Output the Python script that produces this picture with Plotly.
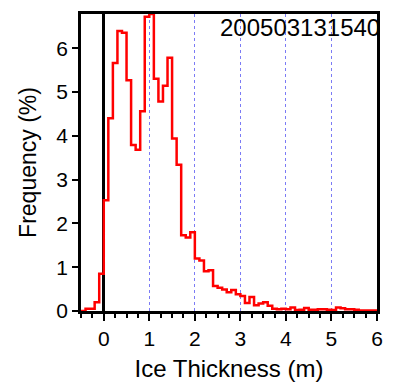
import plotly.graph_objects as go

bin_edges_left = [round(-0.5 + 0.1 * i, 1) for i in range(65)]
freq = [
    0.0, 0.05, 0.05, 0.2, 0.85,
    2.53, 4.4, 5.66, 6.39, 6.35, 5.27, 3.79, 3.68, 4.56, 6.72,
    6.78, 5.3, 4.78, 5.14, 5.78, 3.94, 3.34, 1.73, 1.68, 1.8,
    1.2, 1.15, 0.91, 0.93, 0.57, 0.53, 0.49, 0.43, 0.48, 0.38,
    0.34, 0.18, 0.32, 0.13, 0.17, 0.2, 0.12, 0.05, 0.04, 0.05,
    0.04, 0.08, 0.02, 0.03, 0.07, 0.03, 0.03, 0.04, 0.04, 0.03,
    0.02, 0.08, 0.06, 0.04, 0.04, 0.03, 0.01, 0.01, 0.01, 0.01,
]
label = "200503131540"

xs = bin_edges_left + [6.0]
ys = freq + [freq[-1]]

font_family = "Liberation Sans, Arial, sans-serif"

fig = go.Figure()
fig.add_trace(go.Scatter(x=xs, y=ys, mode="lines", line_shape="hv",
                         line=dict(color="#ff0000", width=2.5), showlegend=False,
                         hoverinfo="skip"))

fig.update_layout(
    width=394, height=390,
    margin=dict(l=81, r=12, t=11, b=78),
    paper_bgcolor="white", plot_bgcolor="white",
    font=dict(family=font_family, color="black", size=21),
    showlegend=False,
    annotations=[dict(text=label, x=1, y=1, xref="paper", yref="paper",
                      xanchor="right", yanchor="top", showarrow=False,
                      font=dict(size=24, color="black", family=font_family),
                      xshift=5, yshift=2)],
)
fig.update_xaxes(
    range=[-0.5, 6], tick0=0, dtick=1, ticks="outside", ticklen=7, tickwidth=2,
    tickcolor="black", showline=True, linecolor="black", linewidth=2.5, mirror=True,
    showgrid=True, gridcolor="#7b7bf5", gridwidth=1, griddash="3px,3px",
    zeroline=True, zerolinecolor="black", zerolinewidth=2.5,
    minor=dict(dtick=0.25, ticks="outside", ticklen=4, tickwidth=2, tickcolor="black", showgrid=False),
    title=dict(text="Ice Thickness (m)", font=dict(size=24), standoff=12),
    tickfont=dict(size=21), layer="below traces",
)
fig.update_yaxes(
    range=[0, 6.78], tick0=0, dtick=1, ticks="outside", ticklen=6, tickwidth=2,
    tickcolor="black", showline=True, linecolor="black", linewidth=2.5, mirror=True,
    showgrid=False, zeroline=False,
    title=dict(text="Frequency (%)", font=dict(size=23), standoff=14),
    tickfont=dict(size=21), layer="below traces",
)

fig.write_html("out.html")
